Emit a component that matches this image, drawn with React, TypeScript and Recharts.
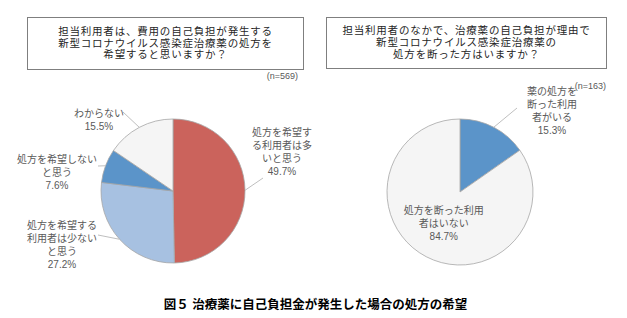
import { PieChart, Pie, Cell } from "recharts";

const leftNames = [
  "処方を希望する利用者は多いと思う",
  "処方を希望する利用者は少ないと思う",
  "処方を希望しないと思う",
  "わからない",
];
const leftValues = [49.7, 27.2, 7.6, 15.5];
const leftLabelLines = [
  ["処方を希望す", "る利用者は多", "いと思う"],
  ["処方を希望する", "利用者は少ない", "と思う"],
  ["処方を希望しない", "と思う"],
  ["わからない"],
];

const rightNames = ["薬の処方を断った利用者がいる", "処方を断った利用者はいない"];
const rightValues = [15.3, 84.7];
const rightLabelLines = [
  ["薬の処方を", "断った利用", "者がいる"],
  ["処方を断った利用", "者はいない"],
];

const leftColors = ["#CB635C", "#A7C1E1", "#5B94C9", "#F5F5F5"];
const rightColors = ["#5B94C9", "#F5F5F5"];

const leftData = leftNames.map((name, i) => ({ name, value: leftValues[i] }));
const rightData = rightNames.map((name, i) => ({ name, value: rightValues[i] }));

// label block centre offsets from the pie centre, and leader line end
const leftLayout = [
  { dx: 109, dy: -40, lx: 90, ly: -13 },
  { dx: -111, dy: 53, lx: -75, ly: 44 },
  { dx: -116, dy: -19, lx: -75, ly: -25 },
  { dx: -74, dy: -72, lx: -50, ly: -79 },
];
const rightLayout = [
  { dx: 92, dy: -82, lx: 57, ly: -84 },
  { dx: 0, dy: 0, lx: 0, ly: 0 },
];

// latin first so line boxes stay compact, CJK glyphs fall back to Noto
const FONT = "'Liberation Sans', 'Noto Sans CJK JP', sans-serif";
const RAD = Math.PI / 180;

function makeLabel(lines: string[][], layout: any[], inside: number[]) {
  return (props: any) => {
    const { cx, cy, midAngle, outerRadius, index, value } = props;
    const rows = [...lines[index], `${value.toFixed(1)}%`];
    const lh = 13;
    let x: number;
    let y: number;
    let line = null;
    if (inside.includes(index)) {
      x = cx + outerRadius * 0.48 * Math.cos(-midAngle * RAD);
      y = cy + outerRadius * 0.48 * Math.sin(-midAngle * RAD);
    } else {
      const L = layout[index];
      x = cx + L.dx;
      y = cy + L.dy;
      const sx = cx + outerRadius * Math.cos(-midAngle * RAD);
      const sy = cy + outerRadius * Math.sin(-midAngle * RAD);
      line = (
        <path
          d={`M${sx},${sy} L${cx + L.lx},${cy + L.ly}`}
          stroke="#BFBFBF"
          strokeWidth={1}
          fill="none"
        />
      );
    }
    const top = y - ((rows.length - 1) * lh) / 2;
    return (
      <g key={`lab-${index}`}>
        {line}
        <text
          x={x}
          y={top}
          textAnchor="middle"
          dominantBaseline="central"
          fontFamily={FONT}
          fontSize={10}
          fill="#595959"
        >
          {rows.map((r, i) => (
            <tspan key={i} x={x} dy={i === 0 ? 0 : lh}>
              {r}
            </tspan>
          ))}
        </text>
      </g>
    );
  };
}

const boxStyle: any = {
  position: "absolute",
  border: "1px solid #7F7F7F",
  boxSizing: "border-box",
  display: "flex",
  alignItems: "center",
  justifyContent: "center",
  textAlign: "center",
  fontFamily: FONT,
  fontSize: 10.5,
  letterSpacing: 0.8,
  lineHeight: "11.9px",
  color: "#262626",
  background: "#fff",
};

export default function App() {
  return (
    <div
      style={{
        position: "absolute",
        left: 0,
        top: 0,
        width: 627,
        height: 318,
        background: "#fff",
        overflow: "hidden",
      }}
    >
      <div style={{ ...boxStyle, left: 27, top: 17, width: 277, height: 53 }}>
        <div>
          担当利用者は、費用の自己負担が発生する
          <br />
          新型コロナウイルス感染症治療薬の処方を
          <br />
          希望すると思いますか？
        </div>
      </div>
      <div style={{ ...boxStyle, left: 326, top: 17, width: 281, height: 52 }}>
        <div>
          担当利用者のなかで、治療薬の自己負担が理由で
          <br />
          新型コロナウイルス感染症治療薬の
          <br />
          処方を断った方はいますか？
        </div>
      </div>
      <div
        style={{
          position: "absolute",
          right: 627 - 298,
          top: 71,
          fontFamily: FONT,
          fontSize: 9,
          color: "#595959",
        }}
      >
        (n=569)
      </div>
      <div
        style={{
          position: "absolute",
          right: 627 - 606,
          top: 81,
          fontFamily: FONT,
          fontSize: 9,
          color: "#595959",
        }}
      >
        (n=163)
      </div>
      <div style={{ position: "absolute", left: 0, top: 0 }}>
        <PieChart width={627} height={318}>
          <Pie
            data={leftData}
            dataKey="value"
            nameKey="name"
            cx={168}
            cy={186}
            outerRadius={72}
            startAngle={90}
            endAngle={-270}
            stroke="#A6A6A6"
            strokeWidth={0.8}
            isAnimationActive={false}
            labelLine={false}
            label={makeLabel(leftLabelLines, leftLayout, [])}
          >
            {leftData.map((d, i) => (
              <Cell key={d.name} fill={leftColors[i]} />
            ))}
          </Pie>
          <Pie
            data={rightData}
            dataKey="value"
            nameKey="name"
            cx={455}
            cy={187}
            outerRadius={73}
            startAngle={90}
            endAngle={-270}
            stroke="#A6A6A6"
            strokeWidth={0.8}
            isAnimationActive={false}
            labelLine={false}
            label={makeLabel(rightLabelLines, rightLayout, [1])}
          >
            {rightData.map((d, i) => (
              <Cell key={d.name} fill={rightColors[i]} />
            ))}
          </Pie>
        </PieChart>
      </div>
      <div
        style={{
          position: "absolute",
          left: 0,
          width: 627,
          top: 294,
          textAlign: "center",
          fontFamily: FONT,
          fontSize: 12.5,
          fontWeight: "bold",
          color: "#000",
          paddingLeft: 2,
        }}
      >
        図５ 治療薬に自己負担金が発生した場合の処方の希望
      </div>
    </div>
  );
}
